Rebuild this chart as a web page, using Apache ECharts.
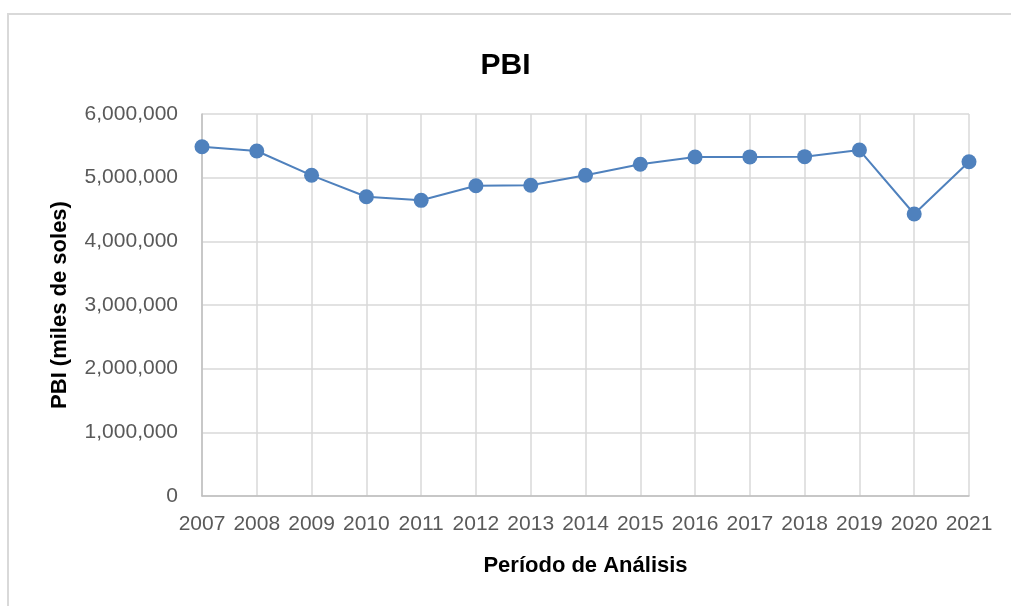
<!DOCTYPE html>
<html>
<head>
<meta charset="utf-8">
<script src="https://cdn.jsdelivr.net/npm/echarts@6/dist/echarts.min.js"></script>
<style>
  html, body { margin: 0; padding: 0; background: #fff; }
  #chart { width: 1011px; height: 606px; }
</style>
</head>
<body>
<div id="chart"></div>
<script>
const years = ['2007', '2008', '2009', '2010', '2011', '2012', '2013', '2014',
    '2015', '2016', '2017', '2018', '2019', '2020', '2021']
const pbiValues = [5486000, 5419000, 5037000, 4701000, 4644000, 4874000, 4880000, 5037000,
    5210000, 5324000, 5326000, 5330000, 5434000, 4429000, 5251000]
const yTicks = [0, 1000000, 2000000, 3000000, 4000000, 5000000, 6000000]

const font = '"Liberation Sans", Arial, sans-serif'
const chart = echarts.init(document.getElementById('chart'))

chart.setOption({
    animation: false,
    textStyle: { fontFamily: font },
    graphic: [
        {
            type: 'rect',
            shape: { x: 8, y: 14, width: 1020, height: 620 },
            style: { fill: 'none', stroke: '#d9d9d9', lineWidth: 2 },
            silent: true,
        },
    ],
    title: {
        text: 'PBI',
        left: 'center',
        top: 46,
        textStyle: { fontSize: 30, fontWeight: 'bold', color: '#000', fontFamily: font },
    },
    grid: {
        left: 202,
        right: 42,
        top: 114,
        bottom: 110,
    },
    xAxis: {
        type: 'category',
        boundaryGap: false,
        data: years,
        name: 'Período de Análisis',
        nameLocation: 'middle',
        nameGap: 59,
        nameTextStyle: { fontSize: 22, fontWeight: 'bold', color: '#000', fontFamily: font },
        axisLine: { lineStyle: { color: '#bfbfbf', width: 1.5 } },
        axisTick: { show: false },
        axisLabel: { color: '#595959', fontSize: 21, margin: 18, interval: 0, fontFamily: font },
        splitLine: { show: true, lineStyle: { color: '#d9d9d9', width: 1.5 } },
    },
    yAxis: {
        type: 'value',
        min: yTicks[0],
        max: yTicks[yTicks.length - 1],
        interval: 1000000,
        name: 'PBI (miles de soles)',
        nameLocation: 'middle',
        nameGap: 131,
        nameTextStyle: { fontSize: 22, fontWeight: 'bold', color: '#000', fontFamily: font },
        axisLine: { show: true, lineStyle: { color: '#bfbfbf', width: 1.5 } },
        axisTick: { show: false },
        axisLabel: {
            color: '#595959',
            fontSize: 21,
            margin: 24,
            fontFamily: font,
            formatter: value => value.toLocaleString('en-US'),
        },
        splitLine: { lineStyle: { color: '#d9d9d9', width: 1.5 } },
    },
    series: [
        {
            name: 'PBI',
            type: 'line',
            data: pbiValues,
            symbol: 'circle',
            symbolSize: 15,
            lineStyle: { color: '#4f81bd', width: 2 },
            itemStyle: { color: '#4f81bd' },
        },
    ],
})
</script>
</body>
</html>
